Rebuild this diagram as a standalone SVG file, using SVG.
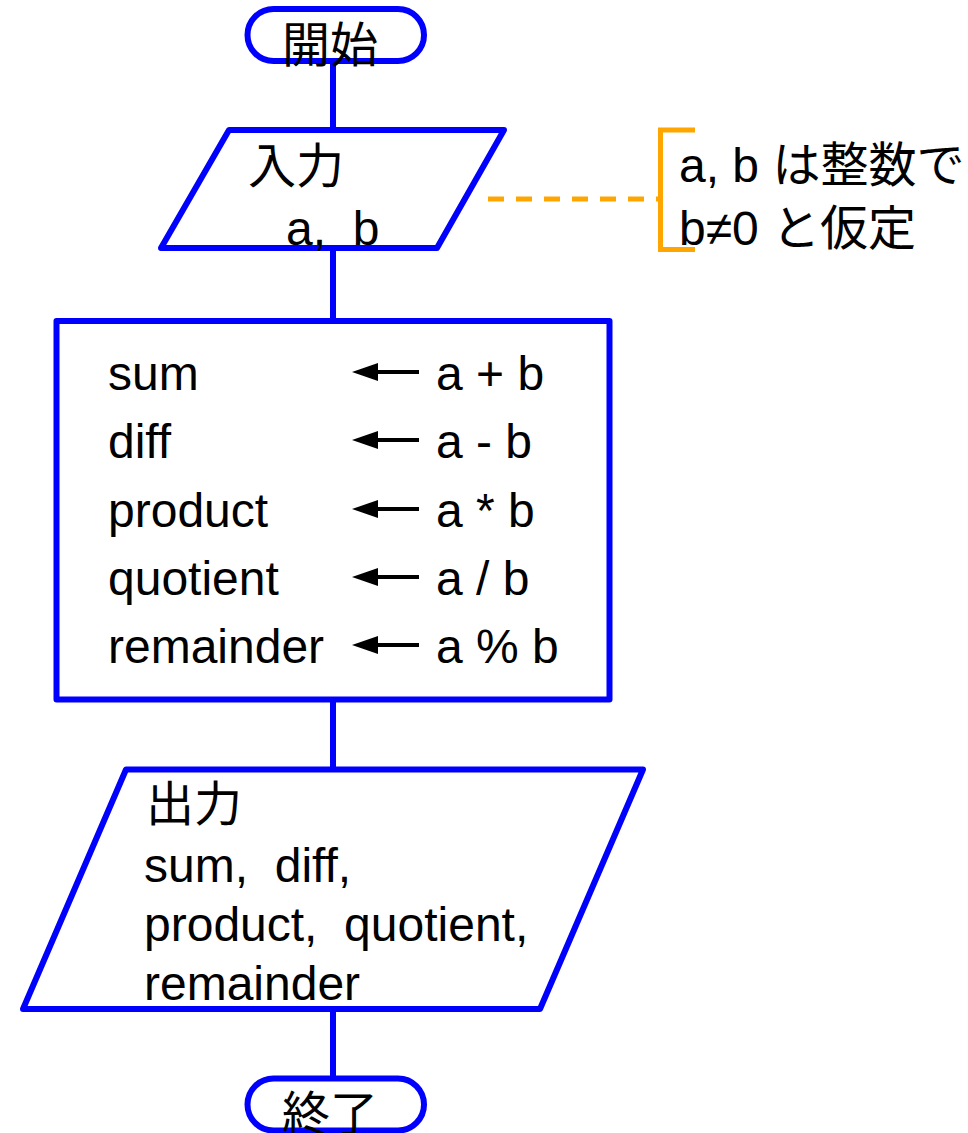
<svg xmlns="http://www.w3.org/2000/svg" xmlns:xlink="http://www.w3.org/1999/xlink" width="968" height="1133" viewBox="0 0 968 1133">
<style>
.shape{fill:#fff;stroke:#0000FF;stroke-width:6;stroke-linejoin:round}
.conn{stroke:#0000FF;stroke-width:6;fill:none}
.t{font-family:"Liberation Sans","Noto Sans CJK JP",sans-serif;font-size:48px;fill:#000}
.note{stroke:#FFA500;stroke-width:5;fill:none}
</style>
<defs>
<g id="arr">
<line x1="372" y1="0" x2="419" y2="0" stroke="#000" stroke-width="4"/>
<polygon points="352,0 378,-9 378,9" fill="#000"/>
</g>
</defs>
<rect width="968" height="1133" fill="#fff"/>
<g id="connectors">
<line class="conn" x1="333" y1="61" x2="333" y2="130"/>
<line class="conn" x1="333" y1="248" x2="333" y2="321"/>
<line class="conn" x1="333" y1="699" x2="333" y2="770"/>
<line class="conn" x1="333" y1="1009" x2="333" y2="1078"/>
<line x1="488" y1="199" x2="658" y2="199" stroke="#FFA500" stroke-width="5" stroke-dasharray="16 12"/>
</g>
<g id="start">
<rect class="shape" x="247.5" y="9" width="176.5" height="52" rx="26" ry="26"/>
<text class="t" x="282" y="62">開始</text>
</g>
<g id="input">
<polygon class="shape" points="229,130 504,130 437,248 161,248"/>
<text class="t" x="248" y="183">入力</text>
<text class="t" x="286" y="245" xml:space="preserve">a,  b</text>
</g>
<g id="note">
<polyline class="note" points="695,130 660.5,130 660.5,249.5 695,249.5"/>
<text class="t" x="679" y="182">a, b は整数で</text>
<text class="t" x="679" y="245">b≠0 と仮定</text>
</g>
<g id="process">
<rect class="shape" x="56.5" y="321" width="553" height="378.5"/>
<text class="t" x="108" y="390">sum</text>
<text class="t" x="108" y="458">diff</text>
<text class="t" x="108" y="527">product</text>
<text class="t" x="108" y="595">quotient</text>
<text class="t" x="108" y="663">remainder</text>
<use xlink:href="#arr" y="372"/>
<use xlink:href="#arr" y="440"/>
<use xlink:href="#arr" y="509"/>
<use xlink:href="#arr" y="577"/>
<use xlink:href="#arr" y="645"/>
<text class="t" x="436" y="390">a + b</text>
<text class="t" x="436" y="458">a - b</text>
<text class="t" x="436" y="527">a * b</text>
<text class="t" x="436" y="595">a / b</text>
<text class="t" x="436" y="663">a % b</text>
</g>
<g id="output">
<polygon class="shape" points="126,769.5 643,769.5 540,1009 23,1009"/>
<text class="t" x="146" y="821">出力</text>
<text class="t" x="144" y="882" xml:space="preserve">sum,  diff,</text>
<text class="t" x="144" y="941" xml:space="preserve">product,  quotient,</text>
<text class="t" x="144" y="1000">remainder</text>
</g>
<g id="end">
<rect class="shape" x="247.5" y="1078.5" width="176.5" height="52" rx="26" ry="26"/>
<text class="t" x="282" y="1131">終了</text>
</g>
</svg>
